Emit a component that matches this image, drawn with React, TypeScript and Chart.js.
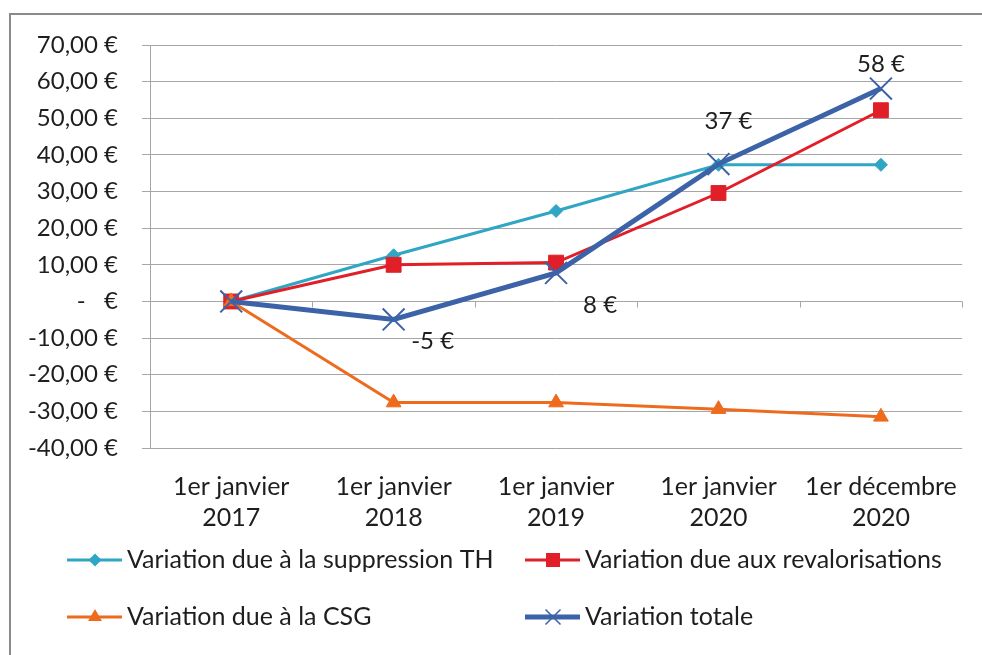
import React, { useEffect, useRef } from 'react';
import { Chart, registerables } from 'chart.js';

Chart.register(...registerables);

const categories: string[][] = [
  ['1er janvier', '2017'],
  ['1er janvier', '2018'],
  ['1er janvier', '2019'],
  ['1er janvier', '2020'],
  ['1er décembre', '2020'],
];
const seriesNames = [
  'Variation due à la suppression TH',
  'Variation due aux revalorisations',
  'Variation due à la CSG',
  'Variation totale',
];
const thValues = [0, 12.6, 24.7, 37.3, 37.3];
const revalValues = [0, 10.0, 10.6, 29.6, 52.2];
const csgValues = [0, -27.6, -27.6, -29.4, -31.5];
const totalValues = [0, -4.9, 7.8, 37.5, 58.1];
const totalLabels: (string | null)[] = [null, '-5 €', '8 €', '37 €', '58 €'];
const yMin = -40;
const yMax = 70;
const yStep = 10;

const FONT = 'Lato, "Noto Sans", sans-serif';
const FS = 24;
const FS_BIG = 25;
const TEXT = '#1e1e1e';
const GRID = '#a6a6a6';
const C_TH = '#2fa6c4';
const C_RE = '#e01f28';
const C_CSG = '#ee6b1e';
const C_TOT = '#3c62a7';

// label offsets (styling) for total labels: [dx, dy] from point
const labelOffsets: [number, number][] = [
  [0, 0],
  [39, 22],
  [44, 32],
  [10, -43],
  [0, -24],
];

function drawMarker(ctx: CanvasRenderingContext2D, kind: string, x: number, y: number, color: string) {
  ctx.save();
  ctx.fillStyle = color;
  ctx.strokeStyle = color;
  ctx.beginPath();
  if (kind === 'diamond') {
    const r = 6.5;
    ctx.moveTo(x, y - r);
    ctx.lineTo(x + r, y);
    ctx.lineTo(x, y + r);
    ctx.lineTo(x - r, y);
    ctx.closePath();
    ctx.fill();
  } else if (kind === 'square') {
    const h = 7;
    ctx.rect(x - h, y - h, 2 * h, 2 * h);
    ctx.fill();
  } else if (kind === 'triangle') {
    const r = 8;
    ctx.moveTo(x, y - r);
    ctx.lineTo(x + r * 0.866, y + r / 2);
    ctx.lineTo(x - r * 0.866, y + r / 2);
    ctx.closePath();
    ctx.fill();
  } else if (kind === 'x') {
    const h = 7.5;
    ctx.lineWidth = 1.5;
    ctx.moveTo(x - h, y - h);
    ctx.lineTo(x + h, y + h);
    ctx.moveTo(x + h, y - h);
    ctx.lineTo(x - h, y + h);
    ctx.stroke();
  }
  ctx.restore();
}

const framePlugin = {
  id: 'frame',
  beforeDraw(chart: any) {
    const ctx = chart.ctx as CanvasRenderingContext2D;
    ctx.save();
    ctx.fillStyle = '#ffffff';
    ctx.fillRect(0, 0, chart.width, chart.height);
    ctx.strokeStyle = '#8a8a8a';
    ctx.lineWidth = 2;
    ctx.beginPath();
    ctx.moveTo(10, chart.height);
    ctx.lineTo(10, 14);
    ctx.lineTo(chart.width, 14);
    ctx.stroke();
    ctx.restore();
  },
};

const zeroTicksPlugin = {
  id: 'zeroTicks',
  beforeDatasetsDraw(chart: any) {
    const ctx = chart.ctx as CanvasRenderingContext2D;
    const { left, right } = chart.chartArea;
    const y0 = Math.round(chart.scales.y.getPixelForValue(0)) + 0.5;
    const n = categories.length;
    ctx.save();
    ctx.strokeStyle = GRID;
    ctx.lineWidth = 1;
    ctx.beginPath();
    for (let k = 1; k <= n; k++) {
      const x = Math.round(left + ((right - left) * k) / n) + 0.5;
      ctx.moveTo(x, y0);
      ctx.lineTo(x, y0 + 6);
    }
    ctx.stroke();
    ctx.restore();
  },
};

const labelsPlugin = {
  id: 'totLabels',
  afterDatasetsDraw(chart: any) {
    const ctx = chart.ctx as CanvasRenderingContext2D;
    const meta = chart.getDatasetMeta(3);
    ctx.save();
    ctx.font = `${FS}px ${FONT}`;
    ctx.fillStyle = TEXT;
    ctx.textAlign = 'center';
    ctx.textBaseline = 'middle';
    totalLabels.forEach((t, i) => {
      if (!t) return;
      const p = meta.data[i];
      const [dx, dy] = labelOffsets[i];
      ctx.fillText(t, p.x + dx, p.y + dy);
    });
    ctx.restore();
  },
};

const legendPlugin = {
  id: 'customLegend',
  afterDraw(chart: any) {
    const ctx = chart.ctx as CanvasRenderingContext2D;
    const items = [
      { name: seriesNames[0], color: C_TH, kind: 'diamond', lw: 3, x: 67, y: 560 },
      { name: seriesNames[1], color: C_RE, kind: 'square', lw: 3, x: 525, y: 560 },
      { name: seriesNames[2], color: C_CSG, kind: 'triangle', lw: 3, x: 67, y: 617 },
      { name: seriesNames[3], color: C_TOT, kind: 'x', lw: 5, x: 525, y: 617 },
    ];
    ctx.save();
    items.forEach((it) => {
      ctx.strokeStyle = it.color;
      ctx.lineWidth = it.lw;
      ctx.beginPath();
      ctx.moveTo(it.x, it.y);
      ctx.lineTo(it.x + 55, it.y);
      ctx.stroke();
      drawMarker(ctx, it.kind, it.x + 28, it.y, it.color);
      ctx.font = `${FS_BIG}px ${FONT}`;
      ctx.fillStyle = TEXT;
      ctx.textAlign = 'left';
      ctx.textBaseline = 'middle';
      ctx.fillText(it.name, it.x + 60, it.y);
    });
    ctx.restore();
  },
};

function formatEuro(v: number): string {
  if (v === 0) return '-   €';
  return v.toFixed(2).replace('.', ',') + ' €';
}

export default function App() {
  const ref = useRef<HTMLCanvasElement>(null);
  useEffect(() => {
    document.body.style.margin = '0';
    const canvas = ref.current;
    if (!canvas) return;
    const chart = new Chart(canvas, {
      type: 'line',
      data: {
        labels: categories,
        datasets: [
          {
            label: seriesNames[0],
            data: thValues,
            borderColor: C_TH,
            backgroundColor: C_TH,
            borderWidth: 3,
            pointStyle: 'rectRot',
            pointRadius: 6.5,
            pointBorderWidth: 1,
            order: 4,
          },
          {
            label: seriesNames[1],
            data: revalValues,
            borderColor: C_RE,
            backgroundColor: C_RE,
            borderWidth: 3,
            pointStyle: 'rect',
            pointRadius: 10.5,
            pointBorderWidth: 1,
            order: 3,
          },
          {
            label: seriesNames[2],
            data: csgValues,
            borderColor: C_CSG,
            backgroundColor: C_CSG,
            borderWidth: 3,
            pointStyle: 'triangle',
            pointRadius: 8.5,
            pointBorderWidth: 1,
            order: 2,
          },
          {
            label: seriesNames[3],
            data: totalValues,
            borderColor: C_TOT,
            backgroundColor: C_TOT,
            borderWidth: 5,
            pointStyle: 'crossRot',
            pointRadius: 15.5,
            pointBorderWidth: 2,
            order: 1,
          },
        ],
      },
      options: {
        responsive: false,
        animation: false,
        events: [],
        layout: { padding: { left: 0, top: 45, right: 17, bottom: 107 } },
        plugins: {
          legend: { display: false },
          tooltip: { enabled: false },
        },
        elements: { line: { tension: 0 } },
        scales: {
          x: {
            offset: true,
            grid: { display: false, drawTicks: false },
            border: { display: false },
            ticks: {
              color: TEXT,
              font: { family: FONT, size: FS_BIG, lineHeight: 31 / FS_BIG },
              padding: 23.5,
              maxRotation: 0,
              autoSkip: false,
            },
            afterFit: (s: any) => {
              s.height = 100;
            },
          },
          y: {
            min: yMin,
            max: yMax,
            ticks: {
              stepSize: yStep,
              color: TEXT,
              font: { family: FONT, size: FS },
              padding: 24,
              callback: (v: any) => formatEuro(Number(v)),
            },
            grid: { color: GRID, lineWidth: 1, drawTicks: true, tickLength: 8 },
            border: { display: true, color: GRID, width: 1 },
            afterFit: (s: any) => {
              s.width = 150;
            },
          },
        },
      },
      plugins: [framePlugin, zeroTicksPlugin, labelsPlugin, legendPlugin],
    });
    return () => chart.destroy();
  }, []);
  return <canvas ref={ref} width={982} height={655} style={{ display: 'block' }} />;
}
